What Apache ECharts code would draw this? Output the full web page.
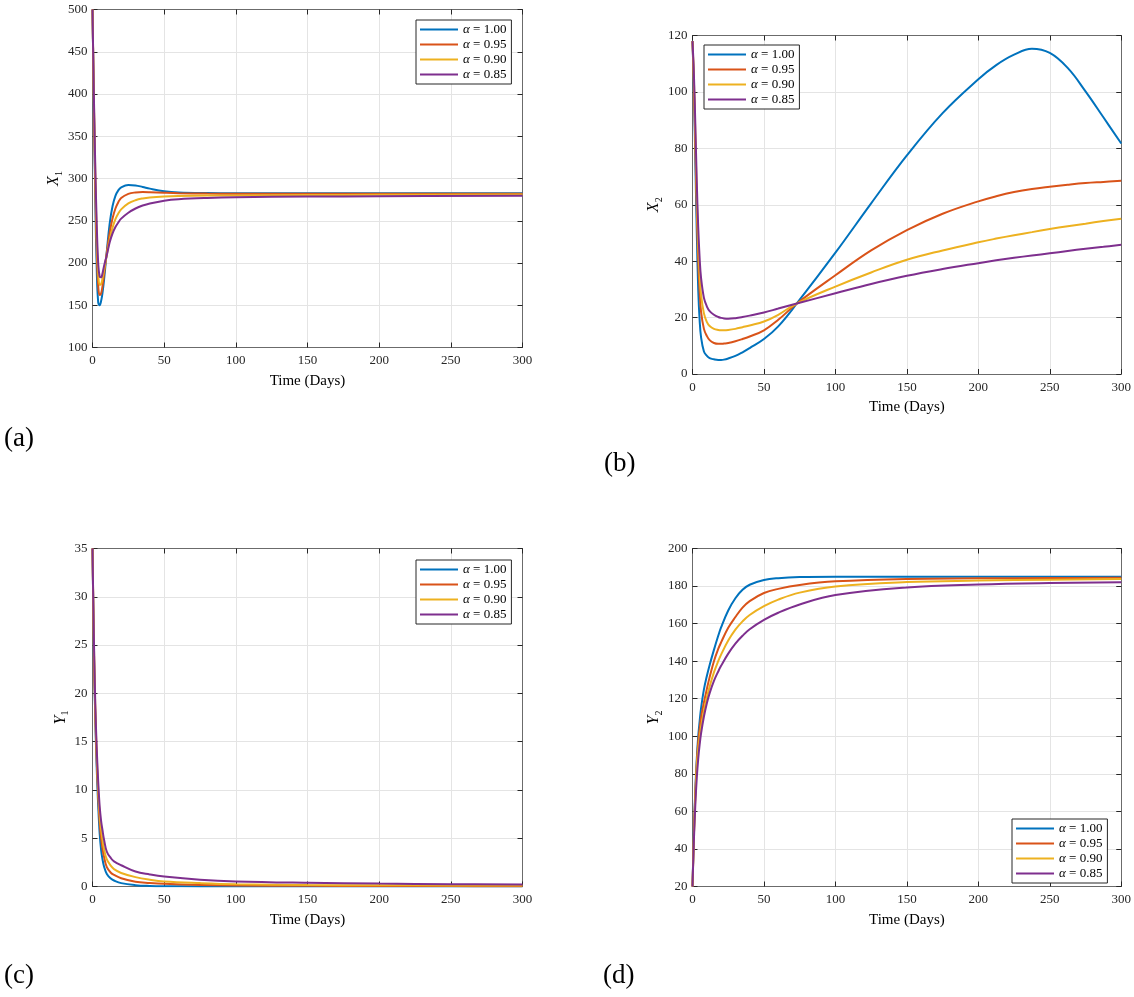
<!DOCTYPE html>
<html>
<head>
<meta charset="utf-8">
<title>X1, X2, Y1, Y2 for different alpha</title>
<script src="https://cdn.jsdelivr.net/npm/echarts@6/dist/echarts.min.js"></script>
<style>
    html, body { margin: 0; padding: 0; background: #fff; }
    #chart { width: 1134px; height: 997px; }
</style>
</head>
<body>
<div id="chart"></div>
<script>
/**
 * DATA
 */
var alphaNames = ['α = 1.00', 'α = 0.95', 'α = 0.90', 'α = 0.85'];
var alphaColors = ['#0072BD', '#D95319', '#EDB120', '#7E2F8E'];

// (a) X1
var timeA = [0, 1, 2, 3, 4, 5, 6, 7, 8, 10, 12, 14, 16, 18, 20, 25, 30, 35, 40, 50, 60, 80, 100, 150, 200, 300];
var x1Alpha100 = [500, 380, 270, 190, 153, 150, 155, 165, 179, 214, 247, 267.5, 279.5, 286, 289.5, 292.3, 291.8, 290, 288, 285, 283.5, 282.7, 282.5, 282.5, 282.5, 282.5];
var x1Alpha095 = [500, 385, 285, 210, 172, 162, 164, 173, 186, 213, 236, 253, 264.5, 272, 277, 281.8, 283.5, 284, 283.8, 283.1, 282.6, 282.2, 282, 282, 282, 282];
var x1Alpha090 = [500, 390, 300, 228, 188, 174, 175, 182, 191, 210, 228, 242, 252, 258.5, 263.5, 270.5, 274.3, 276.4, 277.6, 278.8, 279.4, 279.8, 280, 280.4, 280.7, 281];
var x1Alpha085 = [500, 395, 310, 243, 199, 184, 183, 188, 196, 209.5, 224.5, 235, 242.5, 248, 252.5, 259.5, 264.5, 268, 270.5, 273.8, 275.5, 277, 277.8, 278.6, 279, 279.5];

// (b) X2
var timeB = [0, 1, 2, 3, 4, 5, 6, 8, 10, 12, 15, 18, 20, 22, 25, 30, 35, 40, 50, 60, 73, 100, 125, 150, 175, 200, 212.5, 225, 237.5, 250, 262.5, 275, 287.5, 300];
var x2Alpha100 = [118, 100, 75, 50, 30, 19, 13, 8, 6.5, 5.6, 5.2, 5.0, 5.0, 5.1, 5.5, 6.4, 7.7, 9.2, 12.4, 16.9, 25, 43, 60.5, 77.5, 92.5, 104.5, 109.5, 113.2, 115.3, 113.8, 108.5, 100.2, 91, 81.7];
var x2Alpha095 = [118, 102, 80, 58, 40, 29, 22, 16, 13.5, 12, 11, 10.7, 10.7, 10.8, 11.0, 11.6, 12.4, 13.3, 15.5, 19.2, 25, 35, 43.8, 51, 56.8, 61.2, 63, 64.5, 65.6, 66.4, 67.1, 67.7, 68.1, 68.5];
var x2Alpha090 = [118, 104, 84, 63, 46, 35, 28, 21.5, 18.5, 17, 16, 15.6, 15.5, 15.5, 15.6, 16.0, 16.6, 17.2, 18.6, 21.0, 25, 31, 36, 40.5, 43.8, 46.7, 48, 49.2, 50.3, 51.4, 52.4, 53.3, 54.2, 55];
var x2Alpha085 = [118, 106, 88, 68, 52, 41, 34, 27, 24, 22.3, 21, 20.2, 19.9, 19.7, 19.6, 19.8, 20.2, 20.7, 21.8, 23.2, 25, 28.6, 31.9, 34.8, 37.2, 39.3, 40.3, 41.2, 42.0, 42.8, 43.6, 44.4, 45.1, 45.8];

// (c) Y1
var timeC = [0, 1, 2, 3, 4, 5, 6, 7, 8, 10, 13, 15, 20, 30, 40, 50, 75, 100, 150, 200, 250, 300];
var y1Alpha100 = [35, 24, 17, 12, 8.3, 5.5, 3.8, 2.8, 2.1, 1.3, 0.8, 0.62, 0.35, 0.14, 0.06, 0.03, 0.01, 0, 0, 0, 0, 0];
var y1Alpha095 = [35, 24.5, 17.5, 12.8, 9.3, 6.6, 5.0, 3.9, 3.1, 2.0, 1.4, 1.2, 0.86, 0.5, 0.37, 0.28, 0.16, 0.1, 0.07, 0.05, 0.04, 0.03];
var y1Alpha090 = [35, 25, 18, 13.4, 10.0, 7.5, 5.9, 4.8, 3.9, 2.8, 2.1, 1.8, 1.4, 0.97, 0.7, 0.52, 0.35, 0.24, 0.16, 0.13, 0.11, 0.1];
var y1Alpha085 = [35, 25.5, 18.6, 14.1, 10.8, 8.3, 6.8, 5.8, 4.9, 3.6, 2.9, 2.6, 2.2, 1.55, 1.25, 1.03, 0.7, 0.52, 0.38, 0.3, 0.24, 0.2];

// (d) Y2
var timeD = [0, 1, 2, 3, 4, 5, 6, 8, 10, 12, 15, 18, 20, 25, 30, 35, 40, 50, 60, 75, 100, 150, 200, 250, 300];
var y2Alpha100 = [20, 50, 72, 88, 100, 108, 115, 125, 132, 138, 146, 153.5, 158, 167, 173.5, 178, 180.7, 183.2, 184.2, 184.8, 185, 185, 185, 185, 185];
var y2Alpha095 = [20, 48, 70, 86, 97, 104, 110, 118, 125, 131.5, 140, 146.5, 150, 157.8, 163.5, 168.5, 172, 176.3, 178.5, 180.6, 182.5, 183.8, 184.1, 184.3, 184.4];
var y2Alpha090 = [20, 47, 68, 84, 93, 99.5, 105, 113.5, 120.5, 126.5, 134, 140, 143.5, 151, 156.8, 161.2, 164.6, 169.3, 172.8, 176.5, 179.8, 182.1, 182.9, 183.4, 183.7];
var y2Alpha085 = [20, 45, 64, 78, 88, 95.5, 101.5, 110.5, 117.5, 123, 129.5, 134.5, 137.5, 144, 149.3, 153.5, 157, 162, 165.8, 170.2, 175.2, 179.2, 180.8, 181.6, 182];

/**
 * CHART
 */
var FONT = "'Liberation Serif', 'Times New Roman', serif";
var INK = '#262626';

var panels = [
    {time: timeA, series: [x1Alpha100, x1Alpha095, x1Alpha090, x1Alpha085], letter: 'X', sub: '1',
        min: 100, max: 500, interval: 50, nameGap: 28,
        grid: {left: 92.5, top: 9.5, width: 430, height: 338},
        legend: {left: 416, top: 20}, label: {text: '(a)', left: 4, top: 425}},
    {time: timeB, series: [x2Alpha100, x2Alpha095, x2Alpha090, x2Alpha085], letter: 'X', sub: '2',
        min: 0, max: 120, interval: 20, nameGap: 28,
        grid: {left: 692.5, top: 35.5, width: 430, height: 338.5},
        legend: {left: 704, top: 45}, label: {text: '(b)', left: 604, top: 450}},
    {time: timeC, series: [y1Alpha100, y1Alpha095, y1Alpha090, y1Alpha085], letter: 'Y', sub: '1',
        min: 0, max: 35, interval: 5, nameGap: 22,
        grid: {left: 92.5, top: 548.5, width: 430, height: 338},
        legend: {left: 416, top: 560}, label: {text: '(c)', left: 4, top: 962}},
    {time: timeD, series: [y2Alpha100, y2Alpha095, y2Alpha090, y2Alpha085], letter: 'Y', sub: '2',
        min: 20, max: 200, interval: 20, nameGap: 28,
        grid: {left: 692.5, top: 548.5, width: 430, height: 338},
        legend: {left: 1012, top: 819}, label: {text: '(d)', left: 603, top: 962}}
];

var grids = [], xAxes = [], yAxes = [], series = [], legends = [], labels = [];

function tickStyle() {
    return {show: true, inside: true, length: 5, lineStyle: {color: INK, width: 1}};
}

panels.forEach(function (p, g) {
    grids.push(p.grid);

    // bottom + top x axes (top one only carries ticks, like a closed box)
    xAxes.push({
        gridIndex: g, type: 'value', position: 'bottom', min: 0, max: 300, interval: 50,
        name: 'Time (Days)', nameLocation: 'middle', nameGap: 26,
        nameTextStyle: {fontFamily: FONT, fontSize: 15, color: '#000'},
        axisLine: {show: true, onZero: false, lineStyle: {color: '#6b6b6b', width: 1}},
        axisTick: tickStyle(),
        axisLabel: {margin: 7, fontFamily: FONT, fontSize: 13, color: INK},
        splitLine: {show: true, lineStyle: {color: '#e4e4e4', width: 1}}
    });
    xAxes.push({
        gridIndex: g, type: 'value', position: 'top', min: 0, max: 300, interval: 50,
        axisLine: {show: true, onZero: false, lineStyle: {color: '#6b6b6b', width: 1}},
        axisTick: tickStyle(), axisLabel: {show: false}, splitLine: {show: false}
    });

    yAxes.push({
        gridIndex: g, type: 'value', position: 'left', min: p.min, max: p.max, interval: p.interval,
        name: '{i|' + p.letter + '}{s|' + p.sub + '}', nameLocation: 'middle', nameGap: p.nameGap, nameRotate: 90,
        nameTextStyle: {
            rich: {
                i: {fontFamily: FONT, fontStyle: 'italic', fontSize: 16, lineHeight: 20, color: '#000'},
                s: {fontFamily: FONT, fontSize: 10, lineHeight: 12, verticalAlign: 'bottom', color: '#000'}
            }
        },
        axisLine: {show: true, onZero: false, lineStyle: {color: '#6b6b6b', width: 1}},
        axisTick: tickStyle(),
        axisLabel: {margin: 5, fontFamily: FONT, fontSize: 13, color: INK},
        splitLine: {show: true, lineStyle: {color: '#e4e4e4', width: 1}}
    });
    yAxes.push({
        gridIndex: g, type: 'value', position: 'right', min: p.min, max: p.max, interval: p.interval,
        axisLine: {show: true, onZero: false, lineStyle: {color: '#6b6b6b', width: 1}},
        axisTick: tickStyle(), axisLabel: {show: false}, splitLine: {show: false}
    });

    p.series.forEach(function (values, k) {
        series.push({
            name: alphaNames[k],
            type: 'line',
            xAxisIndex: g * 2,
            yAxisIndex: g * 2,
            data: p.time.map(function (t, i) { return [t, values[i]]; }),
            showSymbol: false,
            symbol: 'none',
            smooth: 0.4,
            lineStyle: {color: alphaColors[k], width: 2},
            itemStyle: {color: alphaColors[k]},
            z: 3 + k
        });
    });

    legends.push({
        data: alphaNames,
        left: p.legend.left, top: p.legend.top,
        orient: 'vertical', icon: 'rect', itemWidth: 38, itemHeight: 2, itemGap: 2,
        padding: [3, 5, 3, 4],
        backgroundColor: '#fff', borderColor: INK, borderWidth: 1, borderRadius: 0,
        selectedMode: false,
        formatter: function (name) {
            return '{i|α} ' + name.slice(2);
        },
        textStyle: {
            fontFamily: FONT, fontSize: 13, color: '#000',
            rich: {i: {fontFamily: FONT, fontSize: 13, fontStyle: 'italic', color: '#000'}}
        }
    });

    labels.push({
        type: 'text', left: p.label.left, top: p.label.top,
        style: {text: p.label.text, font: '27px ' + FONT, fill: '#000'}
    });
});

var chart = echarts.init(document.getElementById('chart'));
chart.setOption({
    animation: false,
    backgroundColor: '#fff',
    grid: grids,
    xAxis: xAxes,
    yAxis: yAxes,
    legend: legends,
    series: series,
    graphic: labels
});
</script>
</body>
</html>
